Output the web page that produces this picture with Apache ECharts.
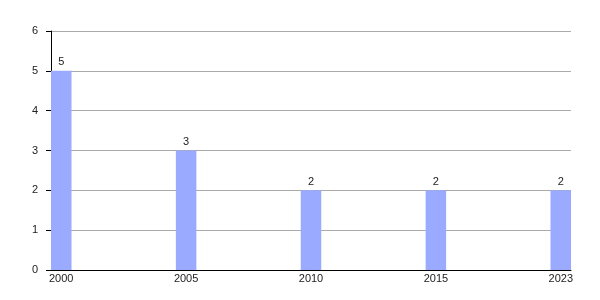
<!DOCTYPE html>
<html><head><meta charset="utf-8">
<script src="https://cdn.jsdelivr.net/npm/echarts@6/dist/echarts.min.js"></script>
<style>html,body{margin:0;padding:0;background:#fff}#c{width:600px;height:300px}</style>
</head><body><div id="c"></div>
<script>
const years = ['2000', '2005', '2010', '2015', '2023'];
const counts = [5, 3, 2, 2, 2];
const yTicks = [0, 1, 2, 3, 4, 5, 6];

const chart = echarts.init(document.getElementById('c'), null, {renderer: 'canvas'});
const font = 'Liberation Sans, Arial, sans-serif';
chart.setOption({
  animation: false,
  grid: {left: 51, right: 29, top: 31, bottom: 30, containLabel: false},
  xAxis: {
    type: 'value',
    min: -0.082, max: 4.082,
    splitLine: {show: false},
    axisLine: {show: true, onZero: false, lineStyle: {color: '#000', width: 1}},
    axisTick: {show: false},
    axisLabel: {
      customValues: years.map((_, i) => i),
      formatter: v => years[Math.round(v)],
      color: '#222', fontSize: 11, fontFamily: font, margin: 3
    },
    z: 5
  },
  yAxis: {
    type: 'value', min: yTicks[0], max: yTicks[yTicks.length - 1], interval: 1,
    axisLine: {show: true, onZero: false, lineStyle: {color: '#000', width: 1}},
    axisTick: {show: true, length: 5, lineStyle: {color: '#000'}},
    splitLine: {show: true, lineStyle: {color: '#aaa', width: 1}},
    axisLabel: {color: '#222', fontSize: 11, fontFamily: font, margin: 13, padding: [3, 0, 0, 0]}
  },
  series: [{
    type: 'bar',
    data: counts.map((v, i) => [i, v]),
    barWidth: 20.5,
    itemStyle: {color: '#99aaff'},
    label: {show: true, position: 'top', distance: 3, color: '#222', fontSize: 11, fontFamily: font,
      formatter: p => p.value[1]}
  }]
});
</script></body></html>
